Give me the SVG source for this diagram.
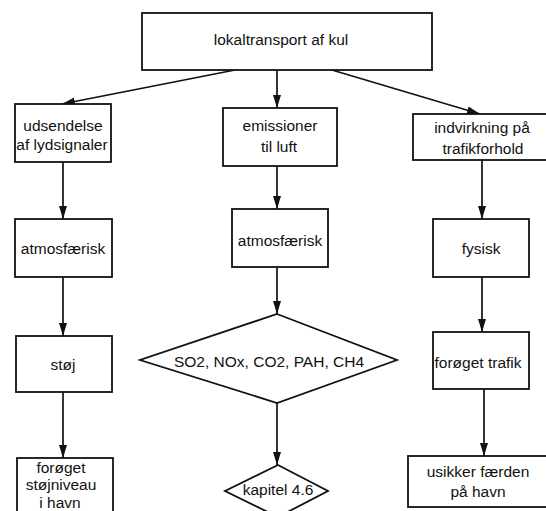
<svg xmlns="http://www.w3.org/2000/svg" width="546" height="511" viewBox="0 0 546 511">
  <style>
    .box { fill: #fff; stroke: #111; stroke-width: 1.8; }
    .lbl { font-family: "Liberation Sans", Arial, Helvetica, sans-serif; font-size: 15.5px; fill: #111; text-anchor: middle; }
    .edge { fill: none; stroke: #111; stroke-width: 1.7; marker-end: url(#head); }
  </style>
  <defs>
    <marker id="head" markerUnits="userSpaceOnUse" markerWidth="14" markerHeight="10" refX="13" refY="5" orient="auto">
      <path d="M0,1 L13,5 L0,9 Z" fill="#111"/>
    </marker>
  </defs>
  <rect width="546" height="511" fill="#fff"/>

  <g id="connectors">
    <line class="edge" x1="235" y1="70" x2="62" y2="104"/>
    <line class="edge" x1="277" y1="70" x2="277" y2="108"/>
    <line class="edge" x1="332" y1="70" x2="480" y2="114"/>
    <line class="edge" x1="63" y1="162" x2="63" y2="219"/>
    <line class="edge" x1="63" y1="277" x2="63" y2="336"/>
    <line class="edge" x1="63" y1="392" x2="63" y2="458"/>
    <line class="edge" x1="277" y1="166" x2="277" y2="209"/>
    <line class="edge" x1="277" y1="267" x2="277" y2="314"/>
    <line class="edge" x1="277" y1="403" x2="277" y2="465"/>
    <line class="edge" x1="482" y1="160" x2="482" y2="219"/>
    <line class="edge" x1="482" y1="277" x2="482" y2="332"/>
    <line class="edge" x1="484" y1="389" x2="484" y2="456"/>
  </g>

  <g id="lokaltransport">
    <rect class="box" x="142" y="13" width="290" height="57"/>
    <text class="lbl" x="281" y="45">lokaltransport af kul</text>
  </g>

  <g id="udsendelse">
    <rect class="box" x="15" y="104" width="96" height="58"/>
    <text class="lbl" x="63" y="131">udsendelse</text>
    <text class="lbl" x="62" y="150">af lydsignaler</text>
  </g>

  <g id="emissioner">
    <rect class="box" x="223" y="108" width="114" height="58"/>
    <text class="lbl" x="280" y="131">emissioner</text>
    <text class="lbl" x="279" y="152">til luft</text>
  </g>

  <g id="indvirkning">
    <rect class="box" x="413" y="114" width="140" height="46"/>
    <text class="lbl" x="482" y="133">indvirkning på</text>
    <text class="lbl" x="483" y="154">trafikforhold</text>
  </g>

  <g id="atmosfaerisk-lyd">
    <rect class="box" x="15" y="219" width="97" height="58"/>
    <text class="lbl" x="63" y="254">atmosfærisk</text>
  </g>

  <g id="atmosfaerisk-luft">
    <rect class="box" x="232" y="209" width="96" height="58"/>
    <text class="lbl" x="280" y="246">atmosfærisk</text>
  </g>

  <g id="fysisk">
    <rect class="box" x="433" y="219" width="96" height="58"/>
    <text class="lbl" x="481" y="254">fysisk</text>
  </g>

  <g id="stoej">
    <rect class="box" x="16" y="336" width="96" height="56"/>
    <text class="lbl" x="63" y="370">støj</text>
  </g>

  <g id="stoffer">
    <polygon class="box" points="277,314 397,360 277,403 140,360"/>
    <text class="lbl" x="269" y="367">SO2, NOx, CO2, PAH, CH4</text>
  </g>

  <g id="foroeget-trafik">
    <rect class="box" x="433" y="332" width="96" height="57"/>
    <text class="lbl" x="478" y="368">forøget trafik</text>
  </g>

  <g id="stoejniveau">
    <rect class="box" x="17" y="458" width="96" height="60"/>
    <text class="lbl" x="61" y="473">forøget</text>
    <text class="lbl" x="61" y="490">støjniveau</text>
    <text class="lbl" x="60" y="508">i havn</text>
  </g>

  <g id="kapitel">
    <polygon class="box" points="278,465 328,491 278,517 225,491"/>
    <text class="lbl" x="278" y="495">kapitel 4.6</text>
  </g>

  <g id="usikker-faerden">
    <rect class="box" x="408" y="456" width="145" height="51"/>
    <text class="lbl" x="478" y="477">usikker færden</text>
    <text class="lbl" x="478" y="497">på havn</text>
  </g>
</svg>
